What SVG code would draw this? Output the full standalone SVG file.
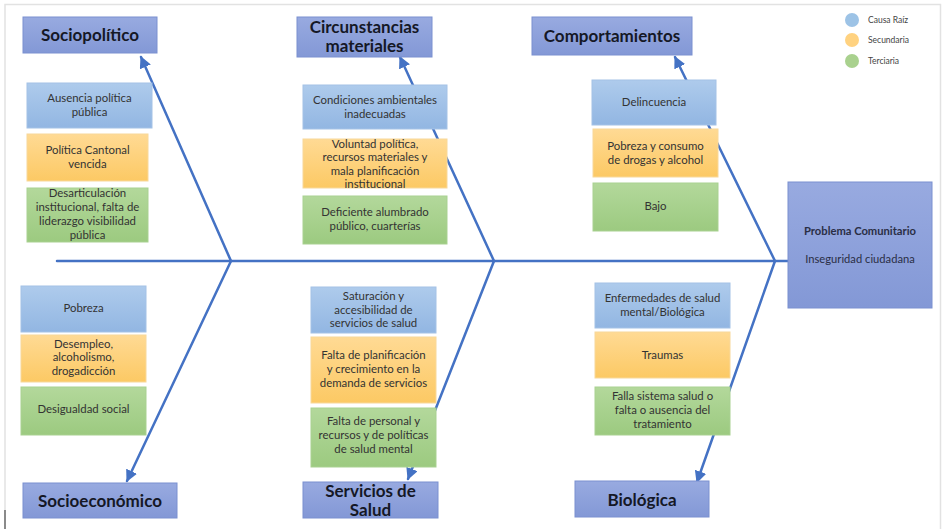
<svg xmlns="http://www.w3.org/2000/svg" width="946" height="529" viewBox="0 0 946 529">
  <defs>
    <linearGradient id="gBlue" x1="0" y1="0" x2="0" y2="1">
      <stop offset="0" stop-color="#AECBEC"/>
      <stop offset="1" stop-color="#92B6E2"/>
    </linearGradient>
    <linearGradient id="gOrange" x1="0" y1="0" x2="0" y2="1">
      <stop offset="0" stop-color="#FFDA94"/>
      <stop offset="1" stop-color="#FCC964"/>
    </linearGradient>
    <linearGradient id="gGreen" x1="0" y1="0" x2="0" y2="1">
      <stop offset="0" stop-color="#B3D89B"/>
      <stop offset="1" stop-color="#9CCA80"/>
    </linearGradient>
    <linearGradient id="gHead" x1="0" y1="0" x2="0" y2="1">
      <stop offset="0" stop-color="#98AAE0"/>
      <stop offset="1" stop-color="#8398D6"/>
    </linearGradient>
    <marker id="arrow" viewBox="0 0 10 10" refX="9" refY="5" markerWidth="12" markerHeight="12" markerUnits="userSpaceOnUse" orient="auto">
      <path d="M0,0 L10,5 L0,10 z" fill="#4472C4"/>
    </marker>
  </defs>
  <style>
    .frame { fill: none; stroke: #E2E2E2; stroke-width: 1.5; }
    .bone { fill: none; stroke: #4472C4; stroke-width: 2.5; stroke-linecap: round; }
    .head { fill: url(#gHead); stroke: #7A90D0; stroke-width: 1; }
    .root { fill: url(#gBlue); stroke: #A4C2E6; stroke-width: 1; }
    .sec { fill: url(#gOrange); stroke: #F8D89A; stroke-width: 1; }
    .ter { fill: url(#gGreen); stroke: #A9D191; stroke-width: 1; }
    .htxt { font-family: Lato, "Liberation Sans", sans-serif; font-weight: bold; font-size: 17px; fill: #151826; text-anchor: middle; }
    .ctxt { font-family: Lato, "Liberation Sans", sans-serif; font-size: 11.4px; fill: #333333; text-anchor: middle; }
    .ltxt { font-family: Lato, "Liberation Sans", sans-serif; font-size: 8.5px; fill: #444; }
    .ptxt { font-family: Lato, "Liberation Sans", sans-serif; font-size: 11.2px; fill: #2A2E45; text-anchor: middle; }
  </style>

  <rect width="946" height="529" fill="#FFFFFF"/>
  <path class="frame" d="M5,529 V4.5 H940.5 V529"/>
  <line x1="5" y1="510" x2="5" y2="529" stroke="#8A8A8A" stroke-width="2"/>

  <!-- fishbone skeleton -->
  <g id="connectors">
    <line class="bone" x1="57" y1="261" x2="788" y2="261"/>
    <line class="bone" x1="231" y1="261" x2="141" y2="57" marker-end="url(#arrow)"/>
    <line class="bone" x1="231" y1="261" x2="127" y2="481" marker-end="url(#arrow)"/>
    <line class="bone" x1="494" y1="261" x2="400" y2="57" marker-end="url(#arrow)"/>
    <line class="bone" x1="494" y1="261" x2="408" y2="479" marker-end="url(#arrow)"/>
    <line class="bone" x1="775" y1="261" x2="675" y2="57" marker-end="url(#arrow)"/>
    <line class="bone" x1="775" y1="261" x2="697" y2="482" marker-end="url(#arrow)"/>
  </g>

  <!-- category headers -->
  <g id="sociopolitico">
    <rect class="head" x="23" y="17" width="134" height="36"/>
    <text class="htxt" x="90" y="41">Sociopolítico</text>
  </g>
  <g id="circunstancias">
    <rect class="head" x="297" y="17" width="135" height="40"/>
    <text class="htxt" x="364.5" y="33">Circunstancias</text>
    <text class="htxt" x="364.5" y="52">materiales</text>
  </g>
  <g id="comportamientos">
    <rect class="head" x="532" y="17" width="160" height="38"/>
    <text class="htxt" x="612" y="42">Comportamientos</text>
  </g>
  <g id="socioeconomico">
    <rect class="head" x="23" y="483" width="154" height="35"/>
    <text class="htxt" x="100" y="507">Socioeconómico</text>
  </g>
  <g id="servicios">
    <rect class="head" x="303" y="482" width="135" height="36"/>
    <text class="htxt" x="370.5" y="497">Servicios de</text>
    <text class="htxt" x="370.5" y="516">Salud</text>
  </g>
  <g id="biologica">
    <rect class="head" x="575" y="481" width="134" height="36"/>
    <text class="htxt" x="642" y="506">Biológica</text>
  </g>

  <!-- problem -->
  <g id="problema">
    <rect class="head" x="788" y="182" width="144" height="126"/>
    <text class="ptxt" x="860" y="235" font-weight="bold">Problema Comunitario</text>
    <text class="ptxt" x="860" y="263">Inseguridad ciudadana</text>
  </g>

  <!-- legend -->
  <g id="legend">
    <circle cx="852" cy="20" r="7" fill="#9DC3E6"/>
    <circle cx="852" cy="40" r="7" fill="#FFD280"/>
    <circle cx="852" cy="61" r="7" fill="#A9D18E"/>
    <text class="ltxt" x="868" y="23">Causa Raíz</text>
    <text class="ltxt" x="868" y="43">Secundaria</text>
    <text class="ltxt" x="868" y="64">Terciaria</text>
  </g>

  <!-- Sociopolítico causes -->
  <g id="c-ausencia">
    <rect class="root" x="27" y="83" width="125" height="45"/>
    <text class="ctxt" x="89.5" y="102">Ausencia política</text>
    <text class="ctxt" x="89.5" y="116">pública</text>
  </g>
  <g id="c-cantonal">
    <rect class="sec" x="27" y="134" width="121" height="47"/>
    <text class="ctxt" x="87.5" y="154">Política Cantonal</text>
    <text class="ctxt" x="87.5" y="168">vencida</text>
  </g>
  <g id="c-desarticulacion">
    <rect class="ter" x="27" y="188" width="121" height="54"/>
    <text class="ctxt" x="87.5" y="197">Desarticulación</text>
    <text class="ctxt" x="87.5" y="211">institucional, falta de</text>
    <text class="ctxt" x="87.5" y="225">liderazgo visibilidad</text>
    <text class="ctxt" x="87.5" y="239">pública</text>
  </g>

  <!-- Circunstancias materiales causes -->
  <g id="c-condiciones">
    <rect class="root" x="303" y="85" width="144" height="44"/>
    <text class="ctxt" x="375" y="104">Condiciones ambientales</text>
    <text class="ctxt" x="375" y="118">inadecuadas</text>
  </g>
  <g id="c-voluntad">
    <rect class="sec" x="303" y="139" width="144" height="49"/>
    <text class="ctxt" x="375" y="148">Voluntad política,</text>
    <text class="ctxt" x="375" y="161">recursos materiales y</text>
    <text class="ctxt" x="375" y="175">mala planificación</text>
    <text class="ctxt" x="375" y="188">institucional</text>
  </g>
  <g id="c-alumbrado">
    <rect class="ter" x="303" y="196" width="144" height="48"/>
    <text class="ctxt" x="375" y="216">Deficiente alumbrado</text>
    <text class="ctxt" x="375" y="230">público, cuarterías</text>
  </g>

  <!-- Comportamientos causes -->
  <g id="c-delincuencia">
    <rect class="root" x="592" y="80" width="124" height="45"/>
    <text class="ctxt" x="654" y="106">Delincuencia</text>
  </g>
  <g id="c-consumo">
    <rect class="sec" x="593" y="129" width="125" height="48"/>
    <text class="ctxt" x="655.5" y="150">Pobreza y consumo</text>
    <text class="ctxt" x="655.5" y="164">de drogas y alcohol</text>
  </g>
  <g id="c-bajo">
    <rect class="ter" x="593" y="183" width="125" height="48"/>
    <text class="ctxt" x="655.5" y="210">Bajo</text>
  </g>

  <!-- Socioeconómico causes -->
  <g id="c-pobreza">
    <rect class="root" x="21" y="286" width="125" height="46"/>
    <text class="ctxt" x="83.5" y="312">Pobreza</text>
  </g>
  <g id="c-desempleo">
    <rect class="sec" x="21" y="335" width="125" height="47"/>
    <text class="ctxt" x="83.5" y="348">Desempleo,</text>
    <text class="ctxt" x="83.5" y="361">alcoholismo,</text>
    <text class="ctxt" x="83.5" y="375">drogadicción</text>
  </g>
  <g id="c-desigualdad">
    <rect class="ter" x="21" y="387" width="125" height="48"/>
    <text class="ctxt" x="83.5" y="413">Desigualdad social</text>
  </g>

  <!-- Servicios de Salud causes -->
  <g id="c-saturacion">
    <rect class="root" x="311" y="287" width="125" height="46"/>
    <text class="ctxt" x="373.5" y="300">Saturación y</text>
    <text class="ctxt" x="373.5" y="314">accesibilidad de</text>
    <text class="ctxt" x="373.5" y="327">servicios de salud</text>
  </g>
  <g id="c-planificacion">
    <rect class="sec" x="311" y="337" width="125" height="66"/>
    <text class="ctxt" x="373.5" y="359">Falta de planificación</text>
    <text class="ctxt" x="373.5" y="373">y crecimiento en la</text>
    <text class="ctxt" x="373.5" y="387">demanda de servicios</text>
  </g>
  <g id="c-personal">
    <rect class="ter" x="311" y="408" width="125" height="59"/>
    <text class="ctxt" x="373.5" y="425">Falta de personal y</text>
    <text class="ctxt" x="373.5" y="439">recursos y de políticas</text>
    <text class="ctxt" x="373.5" y="453">de salud mental</text>
  </g>

  <!-- Biológica causes -->
  <g id="c-enfermedades">
    <rect class="root" x="595" y="283" width="135" height="45"/>
    <text class="ctxt" x="662.5" y="302">Enfermedades de salud</text>
    <text class="ctxt" x="662.5" y="316">mental/Biológica</text>
  </g>
  <g id="c-traumas">
    <rect class="sec" x="595" y="332" width="135" height="46"/>
    <text class="ctxt" x="662.5" y="359">Traumas</text>
  </g>
  <g id="c-falla">
    <rect class="ter" x="595" y="387" width="135" height="48"/>
    <text class="ctxt" x="662.5" y="400">Falla sistema salud o</text>
    <text class="ctxt" x="662.5" y="414">falta o  ausencia del</text>
    <text class="ctxt" x="662.5" y="428">tratamiento</text>
  </g>
</svg>
